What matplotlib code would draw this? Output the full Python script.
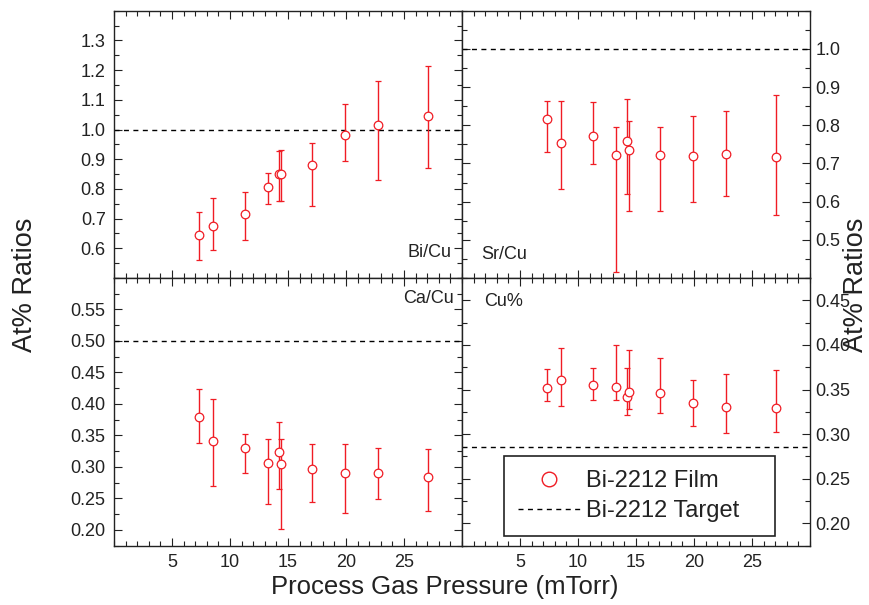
import matplotlib
matplotlib.use("Agg")
import matplotlib.pyplot as plt
from matplotlib.ticker import MultipleLocator, FixedLocator, FormatStrFormatter
from matplotlib.lines import Line2D
import numpy as np

plt.rcParams['font.family'] = ['Liberation Sans', 'DejaVu Sans']

# ---- data ----
pressure = [7.3, 8.5, 11.3, 13.3, 14.2, 14.4, 17.1, 19.9, 22.8, 27.1]

bi_cu = [0.644, 0.676, 0.717, 0.805, 0.850, 0.850, 0.879, 0.983, 1.016, 1.044]
bi_cu_lo = [0.561, 0.593, 0.629, 0.749, 0.759, 0.758, 0.744, 0.893, 0.829, 0.869]
bi_cu_hi = [0.721, 0.771, 0.791, 0.854, 0.928, 0.930, 0.955, 1.085, 1.162, 1.213]

sr_cu = [0.817, 0.753, 0.772, 0.722, 0.758, 0.734, 0.721, 0.719, 0.725, 0.718]
sr_cu_lo = [0.730, 0.634, 0.698, 0.415, 0.620, 0.576, 0.575, 0.599, 0.614, 0.564]
sr_cu_hi = [0.863, 0.863, 0.861, 0.795, 0.870, 0.810, 0.795, 0.823, 0.837, 0.880]

ca_cu = [0.380, 0.342, 0.330, 0.307, 0.324, 0.304, 0.296, 0.290, 0.290, 0.284]
ca_cu_lo = [0.338, 0.269, 0.291, 0.241, 0.265, 0.202, 0.245, 0.227, 0.249, 0.230]
ca_cu_hi = [0.423, 0.408, 0.353, 0.344, 0.372, 0.344, 0.336, 0.337, 0.330, 0.329]

cu_pct = [0.352, 0.361, 0.355, 0.353, 0.342, 0.347, 0.346, 0.335, 0.330, 0.329]
cu_pct_lo = [0.337, 0.332, 0.338, 0.338, 0.321, 0.328, 0.324, 0.309, 0.301, 0.302]
cu_pct_hi = [0.373, 0.397, 0.374, 0.400, 0.374, 0.394, 0.385, 0.361, 0.367, 0.372]

targets = {"Bi/Cu": 1.0, "Sr/Cu": 1.0, "Ca/Cu": 0.5, "Cu%": 2.0 / 7.0}

x_ticks = [5, 10, 15, 20, 25]
bi_ticks = [0.6, 0.7, 0.8, 0.9, 1.0, 1.1, 1.2, 1.3]
sr_ticks = [0.5, 0.6, 0.7, 0.8, 0.9, 1.0]
ca_ticks = [0.20, 0.25, 0.30, 0.35, 0.40, 0.45, 0.50, 0.55]
cu_ticks = [0.20, 0.25, 0.30, 0.35, 0.40, 0.45]

RED = '#f01c24'

W, H = 869, 605
fig = plt.figure(figsize=(W / 100, H / 100), dpi=100)

xl, xm, xr = 114 / W, 462 / W, 810 / W
yt, ym, yb = 1 - 10.7 / H, 1 - 278 / H, 1 - 545.7 / H

ax_bi = fig.add_axes([xl, ym, xm - xl, yt - ym])
ax_sr = fig.add_axes([xm, ym, xr - xm, yt - ym])
ax_ca = fig.add_axes([xl, yb, xm - xl, ym - yb])
ax_cu = fig.add_axes([xm, yb, xr - xm, ym - yb])

panels = [
    (ax_bi, bi_cu, bi_cu_lo, bi_cu_hi, "Bi/Cu", (0.5, 1.4), bi_ticks, 0.05, '%.1f', 'left', False),
    (ax_sr, sr_cu, sr_cu_lo, sr_cu_hi, "Sr/Cu", (0.4, 1.1), sr_ticks, 0.05, '%.1f', 'right', False),
    (ax_ca, ca_cu, ca_cu_lo, ca_cu_hi, "Ca/Cu", (0.175, 0.6), ca_ticks, 0.025, '%.2f', 'left', True),
    (ax_cu, cu_pct, cu_pct_lo, cu_pct_hi, "Cu%", (0.175, 0.475), cu_ticks, 0.025, '%.2f', 'right', True),
]

for ax, y, lo, hi, name, ylim, yticks, minor, fmt, side, bottom in panels:
    y = np.array(y)
    yerr = [y - np.array(lo), np.array(hi) - y]
    ax.errorbar(pressure, y, yerr=yerr, fmt='o', mfc='white', mec=RED, ms=6.2, mew=0.9,
                ecolor=RED, elinewidth=1.0, capsize=2.5, capthick=1.0, zorder=3)
    ax.axhline(targets[name], color='black', lw=1.0, ls=(0, (3.6, 3.2)), zorder=2)
    ax.set_xlim(0, 30)
    ax.set_ylim(*ylim)
    ax.xaxis.set_major_locator(FixedLocator(x_ticks))
    ax.xaxis.set_minor_locator(MultipleLocator(1))
    ax.yaxis.set_major_locator(FixedLocator(yticks))
    ax.yaxis.set_minor_locator(MultipleLocator(minor))
    ax.yaxis.set_major_formatter(FormatStrFormatter(fmt))
    ax.tick_params(which='both', direction='in', top=True, bottom=True, left=True, right=True,
                   width=0.8, colors='#222222', labelcolor='#222222', labelsize=13)
    ax.tick_params(which='major', length=6)
    ax.tick_params(which='minor', length=3.5)
    ax.tick_params(axis='x', labelbottom=bottom, pad=6)
    if side == 'left':
        ax.tick_params(axis='y', labelleft=True, labelright=False, pad=6)
    else:
        ax.tick_params(axis='y', labelleft=False, labelright=True, pad=4)
    for s in ax.spines.values():
        s.set_linewidth(1.0)
        s.set_color('#222222')

ax_bi.text(0.971, 0.080, "Bi/Cu", transform=ax_bi.transAxes, ha='right', va='baseline',
           fontsize=13, color='#222222')
ax_sr.text(0.054, 0.070, "Sr/Cu", transform=ax_sr.transAxes, ha='left', va='baseline',
           fontsize=13, color='#222222')
ax_ca.text(0.976, 0.955, "Ca/Cu", transform=ax_ca.transAxes, ha='right', va='top',
           fontsize=13, color='#222222')
ax_cu.text(0.063, 0.945, "Cu%", transform=ax_cu.transAxes, ha='left', va='top',
           fontsize=13, color='#222222')

handles = [
    Line2D([], [], marker='o', ls='none', mfc='white', mec=RED, ms=10.5, mew=1.0),
    Line2D([], [], color='black', lw=1.0, ls=(0, (3.6, 3.2))),
]
leg = ax_cu.legend(handles, ["Bi-2212 Film", "Bi-2212 Target"], loc='lower left',
                   bbox_to_anchor=(0.1207, 0.0362, 0.778, 0.306), mode='expand',
                   borderaxespad=0, fontsize=17, frameon=True, fancybox=False,
                   edgecolor='#222222', framealpha=1, handlelength=2.63, handletextpad=0.28,
                   labelspacing=0.35, borderpad=0.58)
leg.get_frame().set_linewidth(1.2)
for t in leg.get_texts():
    t.set_color('#222222')

fig.text(0.512, 1 - 594 / H, "Process Gas Pressure (mTorr)", ha='center', va='baseline',
         fontsize=18.5, color='#222222')
fig.text(25 / W, 1 - 285 / H, "At% Ratios", rotation=90, ha='center', va='center',
         fontsize=19.5, color='#222222')
fig.text(856 / W, 1 - 285 / H, "At% Ratios", rotation=90, ha='center', va='center',
         fontsize=19.5, color='#222222')

fig.savefig("out.png", dpi=100)
